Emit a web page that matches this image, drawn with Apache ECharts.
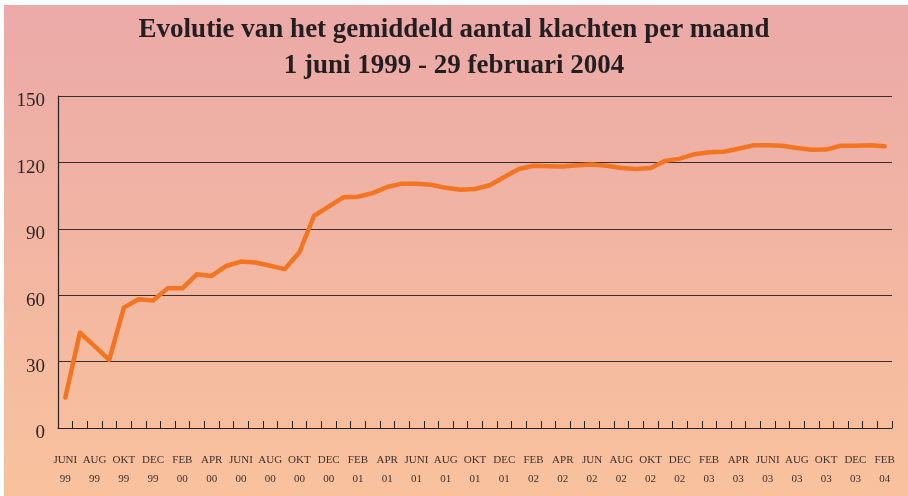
<!DOCTYPE html>
<html>
<head>
<meta charset="utf-8">
<script src="https://cdn.jsdelivr.net/npm/echarts@6/dist/echarts.min.js"></script>
<style>
html,body{margin:0;padding:0;background:#fff;}
#chart{width:908px;height:496px;}
</style>
</head>
<body>
<div id="chart"></div>
<script>
const titleText = "Evolutie van het gemiddeld aantal klachten per maand\n1 juni 1999 - 29 februari 2004";

const categories = [
  "JUNI\n99","JULI\n99","AUG\n99","SEP\n99","OKT\n99","NOV\n99","DEC\n99",
  "JAN\n00","FEB\n00","MRT\n00","APR\n00","MEI\n00","JUNI\n00","JULI\n00","AUG\n00","SEP\n00","OKT\n00","NOV\n00","DEC\n00",
  "JAN\n01","FEB\n01","MRT\n01","APR\n01","MEI\n01","JUNI\n01","JULI\n01","AUG\n01","SEP\n01","OKT\n01","NOV\n01","DEC\n01",
  "JAN\n02","FEB\n02","MRT\n02","APR\n02","MEI\n02","JUN\n02","JULI\n02","AUG\n02","SEP\n02","OKT\n02","NOV\n02","DEC\n02",
  "JAN\n03","FEB\n03","MRT\n03","APR\n03","MEI\n03","JUNI\n03","JULI\n03","AUG\n03","SEP\n03","OKT\n03","NOV\n03","DEC\n03",
  "JAN\n04","FEB\n04"
];

const klachten = [
  13.8, 43.1, 37.0, 30.8, 54.4, 58.2, 57.6,
  63.1, 63.1, 69.5, 68.7, 73.2, 75.2, 74.8, 73.3, 71.8, 79.4, 95.9, 100.0,
  104.2, 104.5, 106.1, 108.9, 110.4, 110.4, 109.9, 108.5, 107.6, 108.0, 109.7, 113.4,
  117.0, 118.5, 118.3, 118.2, 118.7, 119.0, 118.5, 117.5, 117.0, 117.5, 120.7, 121.7,
  123.7, 124.6, 124.8, 126.2, 127.7, 127.7, 127.5, 126.5, 125.7, 125.8, 127.5, 127.5,
  127.7, 127.3
];

const yTicks = { min: 0, max: 150, interval: 30 };

const chart = echarts.init(document.getElementById('chart'), null, { renderer: 'canvas' });
chart.setOption({
  animation: false,
  backgroundColor: '#ffffff',
  graphic: [{
    type: 'rect',
    z: -100,
    silent: true,
    shape: { x: 4, y: 5, width: 904, height: 491 },
    style: {
      fill: new echarts.graphic.LinearGradient(0, 0, 0, 1, [
        { offset: 0, color: '#EBA9A8' },
        { offset: 1, color: '#F9C29D' }
      ])
    }
  }],
  title: {
    text: titleText,
    left: 'center',
    top: 7,
    padding: [5, 0, 5, 10],
    textStyle: {
      fontFamily: '"Liberation Serif", "DejaVu Serif", serif',
      fontWeight: 'bold',
      fontSize: 27,
      lineHeight: 36,
      color: '#231f20'
    }
  },
  grid: { left: 58, right: 16, top: 96, bottom: 68, containLabel: false },
  xAxis: {
    type: 'category',
    data: categories,
    boundaryGap: true,
    axisLine: { show: true, lineStyle: { color: '#2a2222', width: 1.2 } },
    axisTick: { show: true, inside: true, length: 7, interval: 0, lineStyle: { color: '#2a2222' } },
    axisLabel: {
      interval: 1,
      margin: 23,
      fontFamily: '"Liberation Serif", serif',
      fontSize: 11,
      lineHeight: 19,
      color: '#3e302c'
    },
    splitLine: { show: false }
  },
  yAxis: {
    type: 'value',
    min: yTicks.min,
    max: yTicks.max,
    interval: yTicks.interval,
    axisLine: { show: true, lineStyle: { color: '#2a2222', width: 1.2 } },
    axisTick: { show: false },
    axisLabel: {
      margin: 13,
      fontFamily: '"Liberation Serif", serif',
      fontSize: 19,
      color: '#2d2626',
      verticalAlign: 'top',
      lineHeight: 11
    },
    splitLine: { show: true, lineStyle: { color: '#3a2e2c', width: 1 } }
  },
  series: [{
    type: 'line',
    data: klachten,
    showSymbol: false,
    symbol: 'none',
    smooth: false,
    lineStyle: { color: '#F37421', width: 4.5, join: 'round', cap: 'round' },
    z: 5
  }]
});
</script>
</body>
</html>
